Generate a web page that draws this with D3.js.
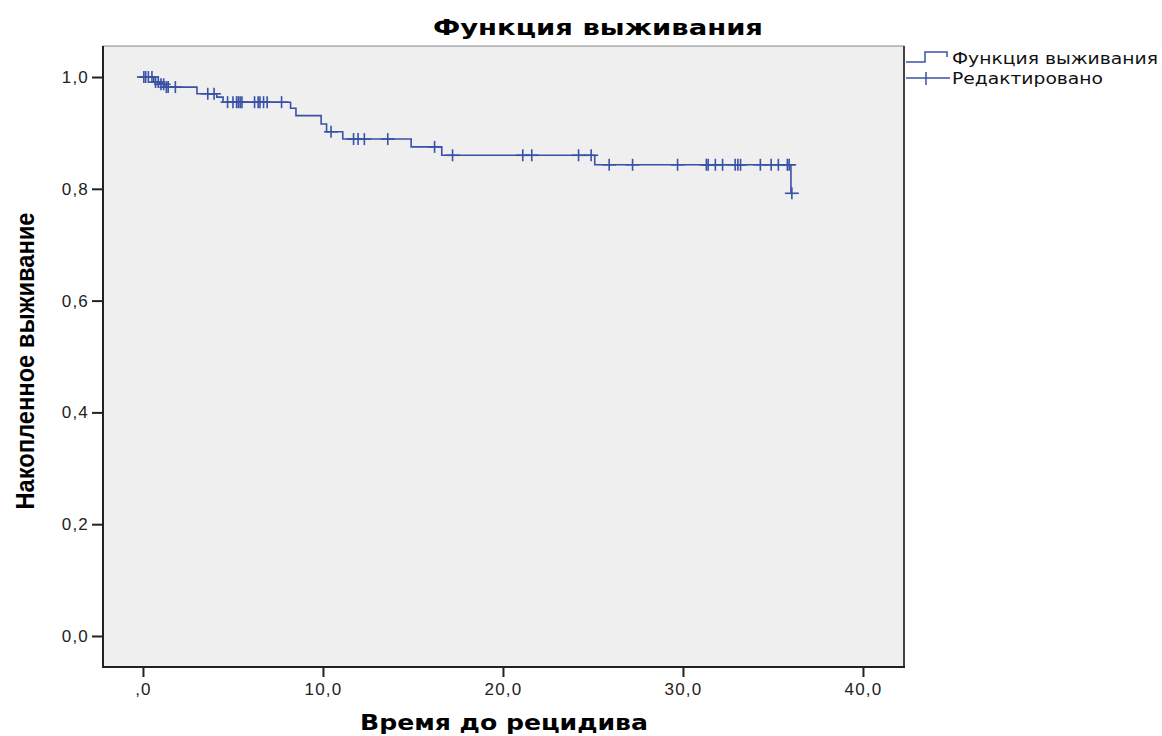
<!DOCTYPE html>
<html><head><meta charset="utf-8">
<script src="https://cdn.jsdelivr.net/npm/d3@7"></script>
<style>body{margin:0;background:#fff;} svg{display:block;}</style>
</head><body>
<svg id="c" width="1162" height="736"></svg>
<script>
// ---- data ----
const eventTimes    = [0.6, 0.9, 1.2, 3.0, 4.1, 4.45, 8.2, 8.5, 9.9, 10.2, 11.1, 14.9, 16.6, 25.1, 36.0];
const eventSurvival = [0.991, 0.987, 0.982, 0.970, 0.964, 0.955, 0.944, 0.931, 0.916, 0.902, 0.889, 0.875, 0.860, 0.843, 0.792];
const lastTime = 36.05;
const censorTimes = [0.05, 0.15, 0.3, 0.5, 0.7, 0.85, 1.0, 1.15, 1.3, 1.4, 1.8, 3.6, 3.95,
  4.7, 5.0, 5.2, 5.3, 5.4, 5.5, 6.2, 6.4, 6.5, 6.7, 6.9, 7.7, 10.45,
  11.7, 11.95, 12.3, 13.6, 16.2, 17.2, 21.1, 21.6, 24.2, 24.9, 25.9, 27.2, 29.7,
  31.3, 31.4, 31.8, 32.2, 32.9, 33.05, 33.2, 34.3, 34.9, 35.3, 35.8, 35.9, 36.05];
const xTickValues = [0, 10, 20, 30, 40];
const xTickLabels = [",0", "10,0", "20,0", "30,0", "40,0"];
const yTickValues = [0, 0.2, 0.4, 0.6, 0.8, 1.0];
const yTickLabels = ["0,0", "0,2", "0,4", "0,6", "0,8", "1,0"];
const legendLabels = ["Функция выживания", "Редактировано"];
const titleText = "Функция выживания";
const xTitleText = "Время до рецидива";
const yTitleText = "Накопленное выживание";

// ---- layout ----
const L = 103, R = 904, T = 46, B = 667;
const color = "#3951a6";
const font = "'Liberation Sans', Arial, sans-serif";
const wide = "'DejaVu Sans', Verdana, sans-serif";
const svg = d3.select("#c");
const x = d3.scaleLinear().domain([-2.22, 42.28]).range([L, R]);
const y = d3.scaleLinear().domain([-0.0555, 1.0555]).range([B, T]);

svg.append("rect").attr("x", L).attr("y", T).attr("width", R - L).attr("height", B - T)
  .attr("fill", "#efefef").attr("stroke", "#888").attr("stroke-width", 1);
svg.append("line").attr("x1", R).attr("x2", R).attr("y1", T).attr("y2", B).attr("stroke", "#444").attr("stroke-width", 2);

// axes
const yAxis = svg.append("g").attr("transform", `translate(${L},0)`)
  .call(d3.axisLeft(y).tickValues(yTickValues).tickFormat((d, i) => yTickLabels[i]).tickSize(11).tickPadding(3));
const xAxis = svg.append("g").attr("transform", `translate(0,${B})`)
  .call(d3.axisBottom(x).tickValues(xTickValues).tickFormat((d, i) => xTickLabels[i]).tickSize(10).tickPadding(6));
[xAxis, yAxis].forEach(g => {
  g.select(".domain").remove();
  g.selectAll(".tick line").attr("stroke", "#222").attr("stroke-width", 2);
  g.selectAll(".tick text").attr("font-family", font).attr("font-size", 17)
    .attr("letter-spacing", "1.2px").attr("fill", "#222");
});
svg.append("line").attr("x1", L).attr("x2", L).attr("y1", T).attr("y2", B + 1).attr("stroke", "#222").attr("stroke-width", 2);
svg.append("line").attr("x1", L - 1).attr("x2", R + 1).attr("y1", B).attr("y2", B).attr("stroke", "#222").attr("stroke-width", 2);

// survival curve
const pts = [[0, 1]].concat(eventTimes.map((t, i) => [t, eventSurvival[i]])).concat([[lastTime, eventSurvival[eventSurvival.length - 1]]]);
const line = d3.line().x(d => x(d[0])).y(d => y(d[1])).curve(d3.curveStepAfter);
svg.append("path").attr("d", line(pts)).attr("fill", "none").attr("stroke", color).attr("stroke-width", 1.6);

function survAt(t) {
  let s = 1;
  eventTimes.forEach((et, i) => { if (et <= t) s = eventSurvival[i]; });
  return s;
}
const cg = svg.append("g").attr("stroke", color).attr("stroke-width", 1.6);
censorTimes.forEach(t => {
  const cx = x(t), cy = y(survAt(t));
  cg.append("line").attr("x1", cx).attr("x2", cx).attr("y1", cy - 6).attr("y2", cy + 6);
  cg.append("line").attr("x1", cx - 7).attr("x2", cx + 7).attr("y1", cy).attr("y2", cy);
});

// titles
svg.append("text").attr("x", 598).attr("y", 35).attr("text-anchor", "middle")
  .attr("font-family", wide).attr("font-weight", "bold").attr("font-size", 22)
  .attr("textLength", 330).attr("lengthAdjust", "spacingAndGlyphs").text(titleText);
svg.append("text").attr("x", 504).attr("y", 730).attr("text-anchor", "middle")
  .attr("font-family", wide).attr("font-weight", "bold").attr("font-size", 21)
  .attr("textLength", 288).attr("lengthAdjust", "spacingAndGlyphs").text(xTitleText);
svg.append("text").attr("transform", "translate(34,361) rotate(-90)").attr("text-anchor", "middle")
  .attr("font-family", "'Liberation Sans Narrow', 'Arial Narrow', " + font).attr("font-weight", "bold").attr("font-size", 26)
  .attr("textLength", 297).attr("lengthAdjust", "spacingAndGlyphs").text(yTitleText);

// legend
const lg = svg.append("g");
lg.append("path").attr("d", "M906,62H925V52H947V57").attr("fill", "none").attr("stroke", color).attr("stroke-width", 1.5);
lg.append("line").attr("x1", 906).attr("x2", 950).attr("y1", 78).attr("y2", 78).attr("stroke", color).attr("stroke-width", 1.5);
lg.append("line").attr("x1", 926).attr("x2", 926).attr("y1", 72).attr("y2", 85).attr("stroke", color).attr("stroke-width", 1.5);
const lens = [206, 151];
legendLabels.forEach((s, i) => {
  lg.append("text").attr("x", 952).attr("y", 64 + i * 20).attr("font-family", wide).attr("font-size", 15.5)
    .attr("fill", "#111").attr("textLength", lens[i]).attr("lengthAdjust", "spacingAndGlyphs").text(s);
});
</script>
</body></html>
